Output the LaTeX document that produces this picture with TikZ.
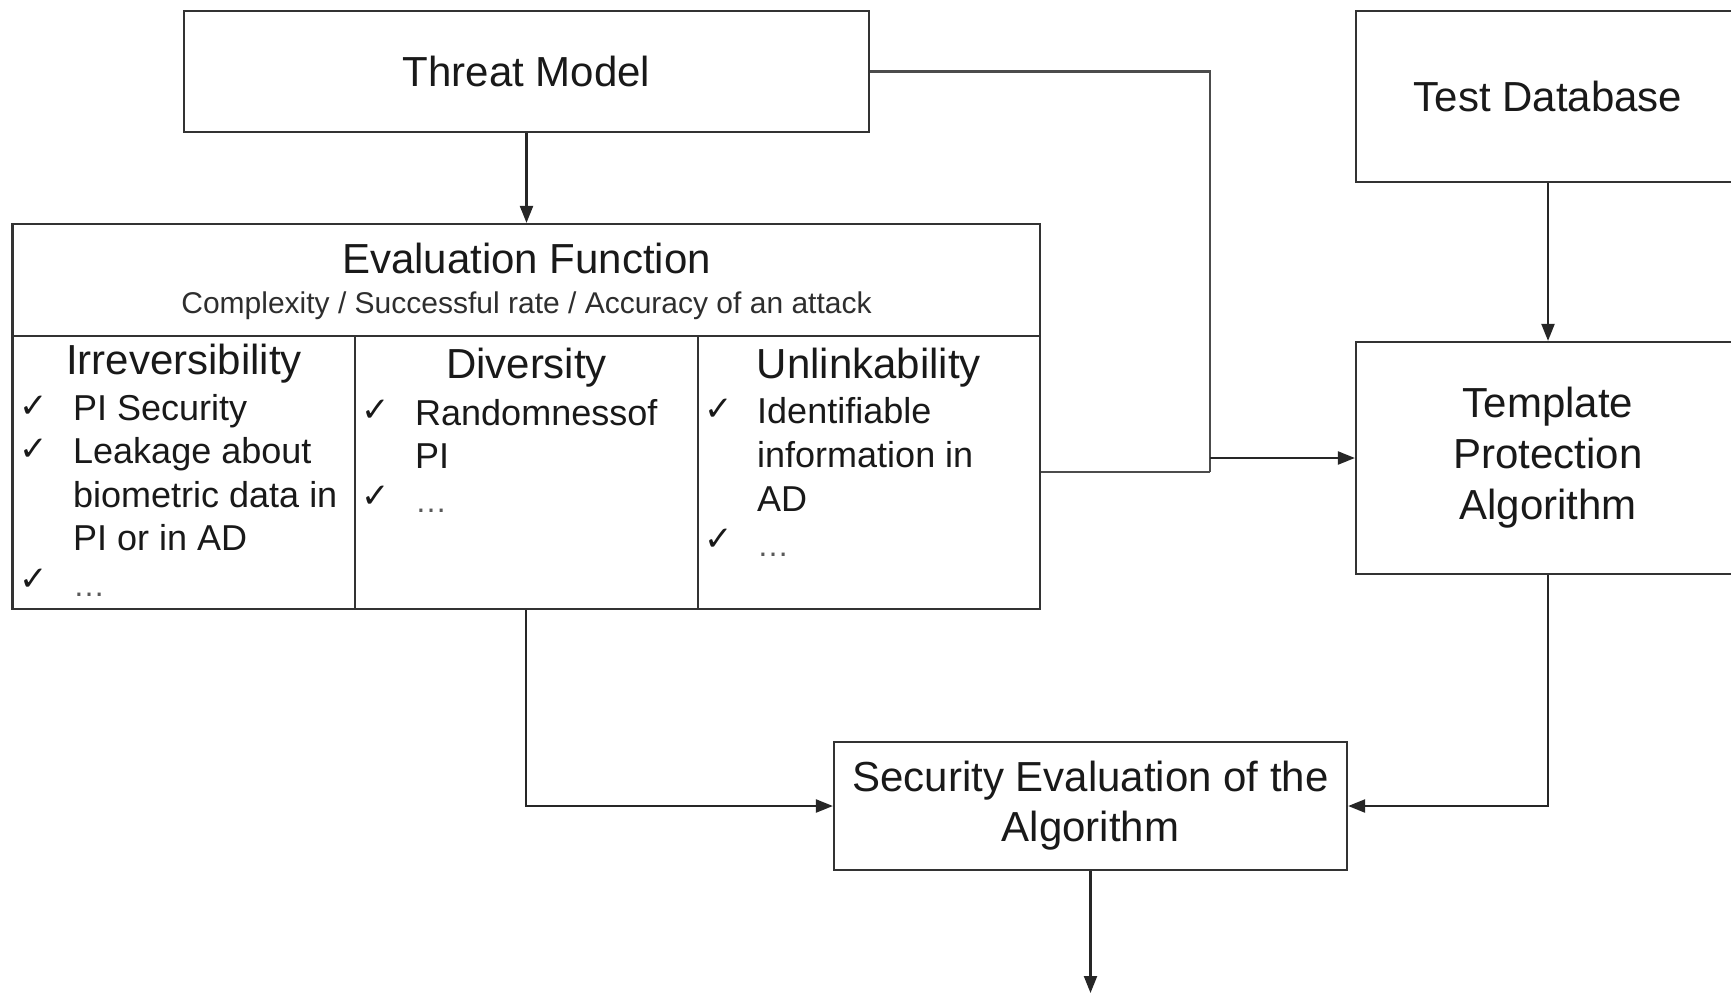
\documentclass[tikz,border=0pt]{standalone}
\usepackage{fontspec}
\setmainfont{Liberation Sans}
\newfontfamily\symfnt{DejaVu Sans}
\usetikzlibrary{arrows.meta}
\begin{document}
\begin{tikzpicture}[x=1pt,y=-1pt,
  box/.style={draw=black!80, line width=2.2pt, inner sep=0pt},
  big/.style={font=\fontsize{42}{51}\selectfont, text=black!90, align=center},
  sub/.style={font=\fontsize{30}{36}\selectfont, text=black!82, anchor=base, inner sep=0pt},
  head/.style={font=\fontsize{42}{51}\selectfont, text=black!90, anchor=base, inner sep=0pt},
  item/.style={font=\fontsize{36}{44}\selectfont, text=black!90, anchor=base west, inner sep=0pt},
  dots/.style={font=\fontsize{32}{36}\selectfont, text=black!65, anchor=base west, inner sep=0pt},
  chk/.style={font=\symfnt\fontsize{34}{36}\selectfont, text=black!90, anchor=base west, inner sep=0pt},
  conn/.style={draw=black!85, line width=2.2pt},
  arr/.style={conn, -{Triangle[length=17pt,width=13pt]}}
]
\useasboundingbox (0,0) rectangle (1731,994);
\clip (0,0) rectangle (1731,994);

% main boxes
\node[box, minimum width=685pt, minimum height=121pt, big] (tm) at (526.5,71.5) {Threat Model};
\node[box, minimum width=1027.5pt, minimum height=385pt] (ef) at (526.25,416.5) {};
\node[box, minimum width=384pt, minimum height=171pt, big] (td) at (1548,96.5) {Test Database};
\node[box, minimum width=384pt, minimum height=232pt, big] (tpa) at (1548,458) {Template\\Protection\\Algorithm};
\node[box, minimum width=513pt, minimum height=128pt, big, font=\fontsize{42}{50}\selectfont] (se) at (1090.5,806) {Security Evaluation of the\\Algorithm};

% evaluation function internals
\coordinate (hl) at (0,336);
\coordinate (d1) at (355,0);
\coordinate (d2) at (698,0);
\draw[box] (ef.west |- hl) -- (ef.east |- hl);
\draw[box] (d1 |- hl) -- (d1 |- ef.south);
\draw[box] (d2 |- hl) -- (d2 |- ef.south);

\node[head] (eft) at (526.5,273) {Evaluation Function};
\node[sub] (efs) at (526.5,313) {Complexity / Successful rate / Accuracy of an attack};

% column 1
\node[head] (h1) at (184,374) {Irreversibility};
\node[chk] (k1a) at (19,417) {✓};
\node[item] (t1a) at (73,420) {PI Security};
\node[chk] (k1b) at (19,460) {✓};
\node[item] (t1b) at (73,463.5) {Leakage about};
\node[item] (t1c) at (73,507) {biometric data in};
\node[item] (t1d) at (73,550.5) {PI or in AD};
\node[chk] (k1e) at (19,590) {✓};
\node[dots] (t1e) at (73,596) {…};

% column 2
\node[head] (h2) at (526.5,378) {Diversity};
\node[chk] (k2a) at (361,421) {✓};
\node[item] (t2a) at (415,425) {Randomnessof};
\node[item] (t2b) at (415,468) {PI};
\node[chk] (k2c) at (361,507) {✓};
\node[dots] (t2c) at (415,512) {…};

% column 3
\node[head] (h3) at (869,378) {Unlinkability};
\node[chk] (k3a) at (704,420) {✓};
\node[item] (t3a) at (757,423) {Identifiable};
\node[item] (t3b) at (757,467) {information in};
\node[item] (t3c) at (757,511) {AD};
\node[chk] (k3d) at (704,550) {✓};
\node[dots] (t3d) at (757,556) {…};

% connectors
\coordinate (jtop) at (1210,71.5);
\coordinate (jbot) at (1210,472);
\coordinate (jarr) at (1210,458);
\coordinate (out) at (1090.5,993);

\draw[arr] (tm.south) -- (tm.south |- ef.north);
\draw[conn, draw=black!70] (tm.east) -- (jtop) -- (jbot);
\draw[conn, draw=black!70] (ef.east |- jbot) -- (jbot);
\draw[arr] (jarr) -- (tpa.west);
\draw[arr] (td.south) -- (tpa.north);
\draw[arr] (ef.south) -- (ef.south |- se.west) -- (se.west);
\draw[arr] (tpa.south) -- (tpa.south |- se.east) -- (se.east);
\draw[arr] (se.south) -- (out);
\end{tikzpicture}
\end{document}
